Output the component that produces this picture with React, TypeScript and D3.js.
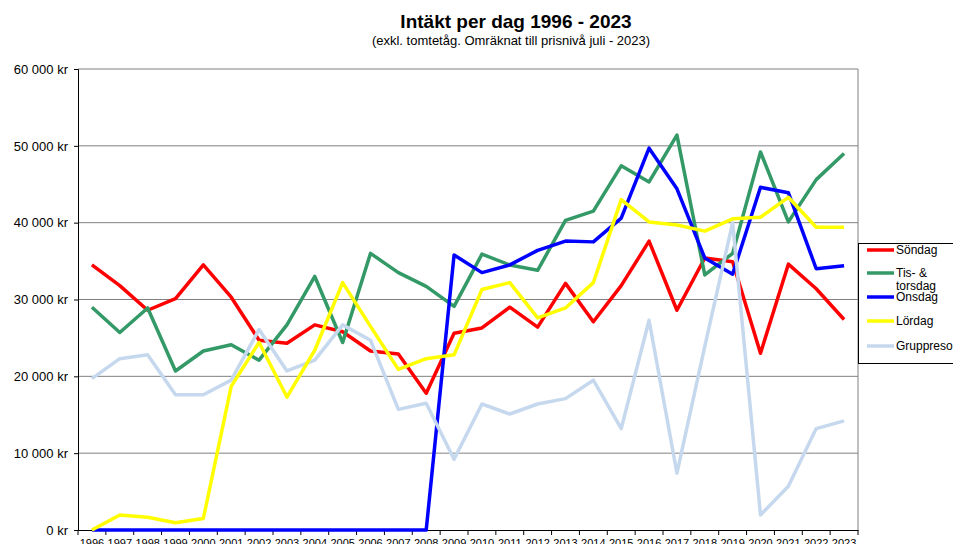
import React, { useEffect, useRef } from 'react';
import * as d3 from 'd3';

// years on the x-axis
const years = [
  '1996', '1997', '1998', '1999', '2000', '2001', '2002', '2003', '2004', '2005',
  '2006', '2007', '2008', '2009', '2010', '2011', '2012', '2013', '2014', '2015',
  '2016', '2017', '2018', '2019', '2020', '2021', '2022', '2023',
];

// income per day, kr
const sondag = [
  34500, 31800, 28600, 30100, 34500, 30300, 24700, 24300, 26700, 25800,
  23300, 22900, 17800, 25600, 26300, 29000, 26400, 32100, 27100, 31800,
  37600, 28600, 35400, 34900, 23000, 34600, 31400, 27400,
];
const tisTorsdag = [
  29000, 25700, 28900, 20700, 23300, 24100, 22100, 26700, 33000, 24400,
  36000, 33500, 31700, 29100, 35900, 34500, 33800, 40300, 41500, 47400,
  45300, 51400, 33200, 36000, 49200, 40100, 45600, 49000,
];
const onsdag = [
  0, 0, 0, 0, 0, 0, 0, 0, 0, 0,
  0, 0, 0, 35800, 33500, 34500, 36400, 37600, 37500, 40600,
  49700, 44400, 35400, 33300, 44600, 43900, 34000, 34400,
];
const lordag = [
  0, 1950, 1650, 950, 1500, 18700, 24400, 17300, 23400, 32200,
  26500, 20900, 22300, 22800, 31300, 32200, 27600, 28900, 32200, 43000,
  40100, 39700, 38900, 40500, 40700, 43300, 39400, 39400,
];
const gruppresor = [
  19700, 22300, 22800, 17600, 17600, 19500, 26100, 20700, 22100, 26700,
  24700, 15700, 16500, 9200, 16400, 15100, 16400, 17100, 19500, 13200,
  27300, 7400, 23900, 40000, 1950, 5700, 13200, 14200,
];

const yTicks = [0, 10000, 20000, 30000, 40000, 50000, 60000];

// legend order, and drawing order (Lördag last so it sits on top)
const series = [
  { name: 'Söndag', values: sondag, color: '#ff0000' },
  { name: 'Tis- & torsdag', values: tisTorsdag, color: '#339966' },
  { name: 'Onsdag', values: onsdag, color: '#0000ff' },
  { name: 'Lördag', values: lordag, color: '#ffff00' },
  { name: 'Gruppresor', values: gruppresor, color: '#c6d8ee' },
];
const drawOrder = ['Söndag', 'Tis- & torsdag', 'Onsdag', 'Gruppresor', 'Lördag'];

const W = 953, H = 544;
const margin = { top: 69, right: 95, bottom: 14, left: 78 };

const sv = d3.formatLocale({ decimal: ',', thousands: '\u00a0', grouping: [3], currency: ['', ' kr'] });
const fmtKr = sv.format('$,');

export default function App() {
  const ref = useRef<SVGSVGElement>(null);

  useEffect(() => {
    const svg = d3.select(ref.current);
    svg.selectAll('*').remove();
    const font = '"Liberation Sans", Arial, sans-serif';

    const x0 = margin.left, x1 = W - margin.right;
    const y0 = H - margin.bottom, y1 = margin.top;

    const x = d3.scaleBand().domain(years).range([x0, x1]);
    const y = d3.scaleLinear().domain([0, 60000]).range([y0, y1]);

    // titles
    svg.append('text')
      .attr('x', 516).attr('y', 28)
      .attr('text-anchor', 'middle')
      .style('font-family', font).style('font-weight', 'bold').style('font-size', '19px')
      .text('Intäkt per dag 1996 - 2023');
    svg.append('text')
      .attr('x', 511).attr('y', 45)
      .attr('text-anchor', 'middle')
      .style('font-family', font).style('font-size', '13px')
      .text('(exkl. tomtetåg. Omräknat till prisnivå juli - 2023)');

    // gridlines
    svg.append('g').selectAll('line').data(yTicks.slice(1)).join('line')
      .attr('x1', x0).attr('x2', x1)
      .attr('y1', d => y(d)).attr('y2', d => y(d))
      .attr('stroke', '#808080').attr('stroke-width', 1);

    // right border
    svg.append('line')
      .attr('x1', x1).attr('x2', x1).attr('y1', y1).attr('y2', y0)
      .attr('stroke', '#808080');

    // y axis
    const yAxis = svg.append('g')
      .attr('transform', `translate(${x0},0)`)
      .call(d3.axisLeft(y).tickValues(yTicks).tickFormat(d => fmtKr(d as number)).tickSize(4).tickPadding(6));
    yAxis.select('.domain').attr('stroke', '#000');
    yAxis.selectAll('text').style('font-family', font).style('font-size', '13px').attr('fill', '#000');

    // x axis: labels at band centres, ticks at band edges
    const xAxis = svg.append('g')
      .attr('transform', `translate(0,${y0})`)
      .call(d3.axisBottom(x).tickSize(0).tickPadding(9).tickSizeOuter(0));
    xAxis.select('.domain').attr('stroke', '#000');
    xAxis.selectAll('text').style('font-family', font).style('font-size', '11px').attr('fill', '#000');
    const edges = years.map(d => x(d) as number).concat([x1]);
    xAxis.selectAll('.edge').data(edges).join('line')
      .attr('class', 'edge')
      .attr('x1', d => d).attr('x2', d => d).attr('y1', 0).attr('y2', 5)
      .attr('stroke', '#000');

    // lines
    const line = d3.line<number>()
      .x((_, i) => (x(years[i]) as number) + x.bandwidth() / 2)
      .y(d => y(d));
    svg.append('g').selectAll('path')
      .data(drawOrder.map(n => series.find(s => s.name === n)!))
      .join('path')
      .attr('d', d => line(d.values))
      .attr('fill', 'none')
      .attr('stroke', d => d.color)
      .attr('stroke-width', 3.5)
      .attr('stroke-linejoin', 'round');

    // legend
    const lg = svg.append('g');
    lg.append('rect')
      .attr('x', 858.5).attr('y', 243.5).attr('width', 120).attr('height', 120)
      .attr('fill', '#fff').attr('stroke', '#000');
    const rows = [
      { y: 250, lines: ['Söndag'] },
      { y: 273, lines: ['Tis- &', 'torsdag'] },
      { y: 297, lines: ['Onsdag'] },
      { y: 321, lines: ['Lördag'] },
      { y: 346, lines: ['Gruppresor'] },
    ];
    series.forEach((s, i) => {
      const r = rows[i];
      lg.append('line')
        .attr('x1', 867).attr('x2', 894).attr('y1', r.y).attr('y2', r.y)
        .attr('stroke', s.color).attr('stroke-width', 3.5);
      lg.append('text')
        .attr('x', 896).attr('y', r.y + 4)
        .style('font-family', font).style('font-size', '12px')
        .selectAll('tspan').data(r.lines).join('tspan')
        .attr('x', 896).attr('dy', (_, j) => (j === 0 ? 0 : 13))
        .text(t => t);
    });
  }, []);

  return (
    <svg ref={ref} width={W} height={H}
      style={{ position: 'absolute', left: 0, top: 0, background: '#fff' }} />
  );
}
